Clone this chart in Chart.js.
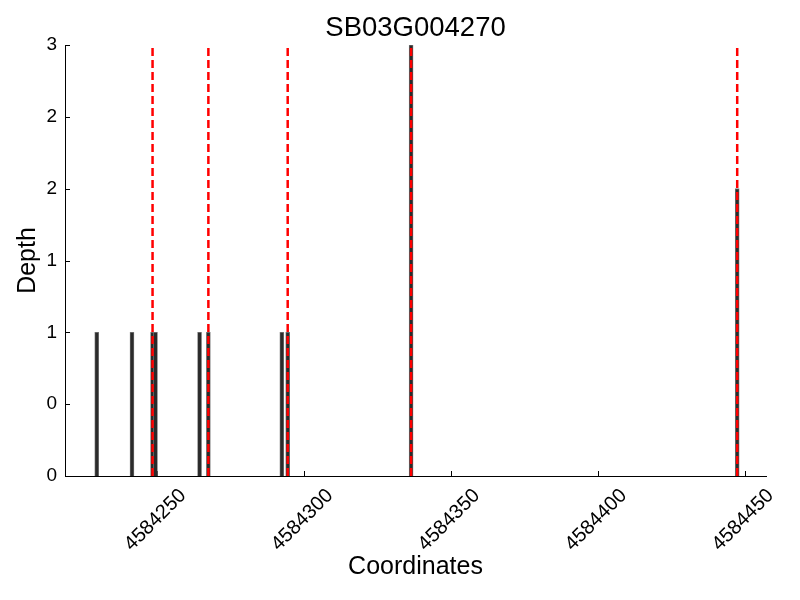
<!DOCTYPE html>
<html>
<head>
<meta charset="utf-8">
<script src="https://cdn.jsdelivr.net/npm/chart.js@4.4.1/dist/chart.umd.min.js"></script>
<style>
  html, body { margin: 0; padding: 0; background: #fff; }
  #depthChart { display: block; }
</style>
</head>
<body>
<canvas id="depthChart" width="800" height="600"></canvas>
<script>

  const geneName = 'SB03G004270';

  // depth bins, start coordinate of each 1bp bin
  const binStarts = [4584229, 4584241, 4584248, 4584249, 4584264, 4584267, 4584292, 4584294, 4584336, 4584447];
  const depths = [1, 1, 1, 1, 1, 1, 1, 1, 3, 2];
  const binWidth = 1;

  // red dashed marker positions
  const markers = [4584248, 4584267, 4584294, 4584336, 4584447];

  const xTickValues = [4584250, 4584300, 4584350, 4584400, 4584450];
  const yTickValues = [0, 0.5, 1, 1.5, 2, 2.5, 3];
  const xMin = 4584218.7;
  const xMax = 4584457.3;
  const yMax = 3;

  const FONT = "'Liberation Sans', Arial, sans-serif";

  const barData = binStarts.map((s, i) => ({ x: s + binWidth / 2, y: depths[i] }));

  const markerSets = markers.map(m => ({
    type: 'line',
    order: 1,
    data: [{ x: m + binWidth / 2, y: 0 }, { x: m + binWidth / 2, y: yMax }],
    borderColor: '#ff0000',
    borderWidth: 2.5,
    borderDash: [8, 4],
    pointRadius: 0,
    fill: false
  }));

  // ticks pointing into the plot, like the original
  const inwardTicks = {
    id: 'inwardTicks',
    beforeDatasetsDraw(chart) {
      const ctx = chart.ctx;
      const area = chart.chartArea;
      const xs = chart.scales.x, ys = chart.scales.y;
      ctx.save();
      ctx.strokeStyle = '#000';
      ctx.lineWidth = 1;
      xs.ticks.forEach(t => {
        const px = Math.round(xs.getPixelForValue(t.value)) + 0.5;
        ctx.beginPath();
        ctx.moveTo(px, area.bottom);
        ctx.lineTo(px, area.bottom - 5);
        ctx.stroke();
      });
      ys.ticks.forEach(t => {
        const py = Math.round(ys.getPixelForValue(t.value)) + 0.5;
        ctx.beginPath();
        ctx.moveTo(area.left, py);
        ctx.lineTo(area.left + 5, py);
        ctx.stroke();
      });
      ctx.restore();
    }
  };

  const config = {
    type: 'bar',
    data: {
      datasets: [
        {
          type: 'bar',
          order: 2,
          data: barData,
          backgroundColor: '#2b2b2b',
          borderColor: '#7a7a7a',
          borderWidth: 0.8,
          barThickness: 4
        },
        ...markerSets
      ]
    },
    options: {
      responsive: false,
      animation: false,
      layout: { padding: { top: 0, right: 34, bottom: 0, left: 0 } },
      plugins: {
        legend: { display: false },
        tooltip: { enabled: false },
        title: {
          display: true,
          fullSize: false,
          text: geneName,
          color: '#000',
          font: { family: FONT, size: 27.5, weight: 'normal' },
          padding: { top: 12, bottom: 0 }
        }
      },
      scales: {
        x: {
          type: 'linear',
          min: xMin,
          max: xMax,
          offset: false,
          grid: { display: false },
          border: { display: true, color: '#000', width: 1 },
          afterBuildTicks: s => { s.ticks = xTickValues.map(v => ({ value: v })); },
          afterFit: s => { s.height = 124; },
          ticks: {
            autoSkip: false,
            minRotation: 45,
            maxRotation: 45,
            labelOffset: 26,
            padding: 0,
            color: '#000',
            font: { family: FONT, size: 20 },
            callback: v => String(v)
          },
          title: {
            display: true,
            text: 'Coordinates',
            color: '#000',
            font: { family: FONT, size: 25 },
            padding: { top: 18, bottom: 18 }
          }
        },
        y: {
          min: 0,
          max: yMax,
          grid: { display: false },
          border: { display: true, color: '#000', width: 1 },
          afterBuildTicks: s => { s.ticks = yTickValues.map(v => ({ value: v })); },
          afterFit: s => { s.width = 65; },
          ticks: {
            padding: 0,
            color: '#000',
            font: { family: FONT, size: 19 },
            callback: v => String(Math.floor(v))
          },
          title: {
            display: true,
            text: 'Depth',
            color: '#000',
            font: { family: FONT, size: 25 },
            padding: { top: 13, bottom: 13 }
          }
        }
      }
    },
    plugins: [inwardTicks]
  };

  var depthChart = new Chart(document.getElementById('depthChart'), config);

</script>
</body>
</html>
